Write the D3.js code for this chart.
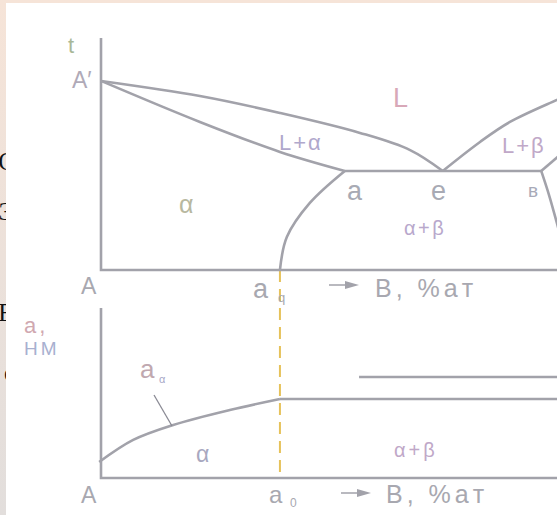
<!DOCTYPE html>
<html lang="ru">
<head>
<meta charset="UTF-8">
<title>Диаграмма состояния и период решётки</title>
<script src="https://d3js.org/d3.v7.min.js"></script>
<style>
  body { margin: 0; background: #fff; }
  svg { display: block; }
  .ln { fill: none; stroke: #a2a2aa; stroke-width: 2.6px; stroke-linecap: butt; }
  .lbl { font-family: Arial, "Liberation Sans", sans-serif; fill: #b0a8b6; }
</style>
</head>
<body>
<svg id="chart" width="557" height="515"></svg>
<script>
// composition, % B  /  temperature, arbitrary units
const liquidusA   = [[0, 815], [21.5, 750], [38.9, 677], [56.3, 591], [67.2, 517], [74.3, 427]];
const solidusA    = [[0, 815], [21.5, 638], [38.9, 509], [53.0, 427]];
const liquidusB   = [[74.3, 427], [82.4, 552], [88.9, 638], [99.1, 733], [103, 767]];
const eutectic    = [[53.0, 427], [95.7, 427]];
const betaLiquid  = [[95.7, 427], [101, 517]];
const betaSolvus  = [[95.7, 427], [97.4, 323], [99.1, 203], [100.5, 100]];
const alphaSolvus = [[53.0, 427], [45.4, 289], [40.4, 142], [38.9, 0]];

// lattice parameter a, arbitrary units
const latticeAlpha = [[-0.4, 9.4], [7.0, 22.4], [15.7, 31.2], [28.0, 40.0], [38.9, 46.5]];
const latticeFlat  = [[38.9, 46.5], [102, 46.5]];
const latticeBeta  = [[56.1, 59.4], [102, 59.4]];
const aLimit = 38.9;

const svg = d3.select("#chart");

// page background: beige slide edge with clipped black text
const defs = svg.append("defs");
const grad = defs.append("linearGradient").attr("id", "edge").attr("x1", 0).attr("y1", 0).attr("x2", 0).attr("y2", 1);
grad.append("stop").attr("offset", "0%").attr("stop-color", "#f6e4d8");
grad.append("stop").attr("offset", "100%").attr("stop-color", "#e2dedc");
svg.append("rect").attr("width", 557).attr("height", 515).attr("fill", "url(#edge)");

const edgeText = [["C", 170], ["Э", 220], ["В", 321], ["с", 381]];
svg.selectAll(".edge").data(edgeText).join("text")
  .attr("x", 15).attr("y", d => d[1])
  .attr("text-anchor", "end")
  .attr("font-family", "Liberation Serif, serif")
  .attr("font-size", 25).attr("fill", "#111")
  .text(d => d[0]);

svg.append("rect").attr("x", 6).attr("y", 3).attr("width", 551).attr("height", 512).attr("fill", "#fff");

const x = d3.scaleLinear().domain([0, 100]).range([101, 561]);
const t = d3.scaleLinear().domain([0, 1000]).range([270, 38]);
const a = d3.scaleLinear().domain([0, 100]).range([478, 308]);

const g = svg.append("g");

const lineT = d3.line().x(d => x(d[0])).y(d => t(d[1]));
const lineA = d3.line().x(d => x(d[0])).y(d => a(d[1]));

// dashed vertical at solubility limit
g.append("line")
  .attr("x1", x(aLimit)).attr("x2", x(aLimit))
  .attr("y1", t(0)).attr("y2", a(0))
  .attr("stroke", "#e6c25a").attr("stroke-width", 2)
  .attr("stroke-dasharray", "12,7");

// axes
g.append("path").attr("class", "ln").attr("d", lineT([[0, 1000], [0, 0], [102, 0]]));
g.append("path").attr("class", "ln").attr("d", lineA([[0, 100], [0, 0], [102, 0]]));

// phase boundaries
g.append("path").attr("class", "ln").attr("d", lineT.curve(d3.curveCatmullRom)(liquidusA));
g.append("path").attr("class", "ln").attr("d", lineT.curve(d3.curveCatmullRom)(solidusA));
g.append("path").attr("class", "ln").attr("d", lineT.curve(d3.curveCatmullRom)(liquidusB));
g.append("path").attr("class", "ln").attr("d", lineT.curve(d3.curveLinear)(eutectic));
g.append("path").attr("class", "ln").attr("d", lineT.curve(d3.curveLinear)(betaLiquid));
g.append("path").attr("class", "ln").attr("d", lineT.curve(d3.curveCatmullRom)(betaSolvus));
g.append("path").attr("class", "ln").attr("d", lineT.curve(d3.curveCatmullRom)(alphaSolvus));

// lattice parameter
g.append("path").attr("class", "ln").attr("d", lineA.curve(d3.curveCatmullRom)(latticeAlpha));
g.append("path").attr("class", "ln").attr("d", lineA.curve(d3.curveLinear)(latticeFlat));
g.append("path").attr("class", "ln").attr("d", lineA.curve(d3.curveLinear)(latticeBeta));
g.append("line").attr("x1", 154).attr("y1", 395).attr("x2", 172).attr("y2", 426)
  .attr("stroke", "#8a8a94").attr("stroke-width", 1.3);

// arrows
function arrow(x0, y0) {
  g.append("line").attr("x1", x0).attr("y1", y0).attr("x2", x0 + 20).attr("y2", y0)
    .attr("stroke", "#a2a2aa").attr("stroke-width", 1.5);
  g.append("path").attr("d", `M${x0 + 16},${y0 - 4}L${x0 + 30},${y0}L${x0 + 16},${y0 + 4}Z`)
    .attr("fill", "#a2a2aa");
}
arrow(329, 285);
arrow(341, 493);

// labels
function label(txt, px, py, size, color, spacing) {
  return g.append("text").attr("class", "lbl")
    .attr("x", px).attr("y", py).attr("font-size", size)
    .attr("letter-spacing", spacing || 0)
    .style("fill", color)
    .text(txt);
}
label("t", 68, 53, 22, "#a8b898");
label("A′", 72, 88, 23, "#b0aab8");
label("L", 393, 107, 27, "#d8a8b8");
label("L+α", 279, 150, 22, "#b0a8cc", 2);
label("L+β", 502, 153, 22, "#c0a8c8", 2);
label("a", 347, 200, 27, "#a8aab4");
label("e", 431, 200, 27, "#a8aab4");
label("в", 528, 197, 19, "#a8aab8");
label("α", 179, 213, 25, "#b8b8a0");
label("α+β", 404, 235, 20, "#b8a8cc", 2.5);
label("A", 81, 294, 23, "#a8a8b0");
label("a", 253, 298, 27, "#a8a8b0");
label("q", 278, 302, 13, "#a8a8b0");
label("B, %aт", 375, 297, 25, "#a8a8b0", 4);

label("a,", 24, 333, 22, "#d0a8b0", 3);
label("HM", 24, 355, 19, "#a8b0d0", 3);
label("a", 140, 378, 26, "#c0a8b0");
label("α", 159, 383, 11, "#a8a8c8");
label("α", 196, 462, 23, "#a8a8c0");
label("α+β", 394, 457, 20, "#c0a8c8", 3);
label("A", 81, 503, 23, "#a8a8b0");
label("a", 269, 503, 24, "#a8a8b0");
label("0", 290, 507, 12, "#a8a8b0");
label("B, %aт", 386, 503, 25, "#a8a8b0", 4);
</script>
</body>
</html>
